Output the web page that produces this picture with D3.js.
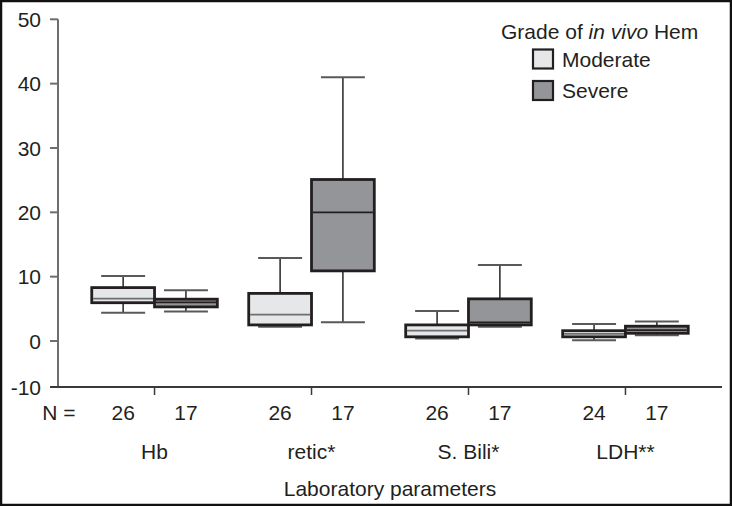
<!DOCTYPE html>
<html>
<head>
<meta charset="utf-8">
<script src="https://cdn.jsdelivr.net/npm/d3@7"></script>
<style>
  html, body { margin: 0; padding: 0; background: #fff; }
  svg { display: block; font-family: "Liberation Sans", Arial, Helvetica, sans-serif; }
</style>
</head>
<body>
<svg id="chart" width="732" height="506"></svg>
<script>
// ---- data ----
const categories = ["Hb", "retic*", "S. Bili*", "LDH**"];
const groups = ["Moderate", "Severe"];
const nModerate = [26, 26, 26, 24];
const nSevere = [17, 17, 17, 17];
const moderateMin    = [4.4, 2.2, 0.4, 0.1];
const moderateQ1     = [5.95, 2.5, 0.65, 0.65];
const moderateMedian = [6.6, 4.1, 1.6, 1.1];
const moderateQ3     = [8.3, 7.4, 2.5, 1.6];
const moderateMax    = [10.1, 12.9, 4.65, 2.65];
const severeMin      = [4.6, 2.9, 2.2, 0.9];
const severeQ1       = [5.3, 10.9, 2.5, 1.2];
const severeMedian   = [6.0, 20.0, 2.9, 1.7];
const severeQ3       = [6.5, 25.1, 6.55, 2.3];
const severeMax      = [7.9, 41.0, 11.8, 3.05];
const yTicks = [-10, 0, 10, 20, 30, 40, 50];
const legendTitle = ["Grade of ", "in vivo", " Hem"];
const xTitle = "Laboratory parameters";

// ---- build table ----
const boxes = [];
categories.forEach((c, i) => {
  boxes.push({cat: c, grp: "Moderate", n: nModerate[i], min: moderateMin[i], q1: moderateQ1[i], med: moderateMedian[i], q3: moderateQ3[i], max: moderateMax[i]});
  boxes.push({cat: c, grp: "Severe", n: nSevere[i], min: severeMin[i], q1: severeQ1[i], med: severeMedian[i], q3: severeQ3[i], max: severeMax[i]});
});

const fill = {Moderate: "#e6e7e8", Severe: "#939598"};
const medColor = {Moderate: "#6d6e71", Severe: "#231f20"};
const dark = "#231f20";
const FS = 21;

const svg = d3.select("#chart");

// frame
svg.append("rect").attr("x", 1).attr("y", 1).attr("width", 730).attr("height", 504)
  .attr("fill", "none").attr("stroke", "#111").attr("stroke-width", 2.5);

const left = 58, right = 722, axisY = 387;
const y = d3.scaleLinear().domain([-10, 0, 50]).range([387, 341, 19.3]);
const x0 = d3.scaleBand().domain(categories).range([left, right]).paddingInner(0.2).paddingOuter(0.215);
const x1 = d3.scaleBand().domain(groups).range([0, x0.bandwidth()]);

// y axis
const yAxis = svg.append("g");
yAxis.append("line").attr("x1", left).attr("x2", left).attr("y1", y(50)).attr("y2", axisY)
  .attr("stroke", "#6d6e71").attr("stroke-width", 2);
yTicks.forEach(t => {
  yAxis.append("line").attr("x1", left - 8).attr("x2", left).attr("y1", y(t)).attr("y2", y(t))
    .attr("stroke", "#6d6e71").attr("stroke-width", 2);
  yAxis.append("text").attr("x", 41).attr("y", y(t)).attr("dy", "0.36em")
    .attr("text-anchor", "end").attr("font-size", FS).attr("fill", dark).text(t);
});

// x axis
svg.append("line").attr("x1", left - 8).attr("x2", right).attr("y1", axisY).attr("y2", axisY)
  .attr("stroke", "#3a3a3a").attr("stroke-width", 2);
categories.forEach(c => {
  const cx = x0(c) + x0.bandwidth() / 2;
  svg.append("line").attr("x1", cx).attr("x2", cx).attr("y1", axisY).attr("y2", axisY + 8)
    .attr("stroke", "#3a3a3a").attr("stroke-width", 1.5);
  svg.append("text").attr("x", cx).attr("y", 451).attr("dy", "0.36em").attr("text-anchor", "middle")
    .attr("font-size", FS).attr("fill", dark).text(c);
});
svg.append("text").attr("x", 59).attr("y", 412).attr("dy", "0.36em").attr("text-anchor", "middle")
  .attr("font-size", FS).attr("fill", dark).text("N =");
svg.append("text").attr("x", (left + right) / 2).attr("y", 488).attr("dy", "0.36em").attr("text-anchor", "middle")
  .attr("font-size", FS).attr("fill", dark).text(xTitle);

// boxes
const g = svg.append("g");
boxes.forEach(b => {
  const bx = x0(b.cat) + x1(b.grp);
  const bw = x1.bandwidth();
  const cx = bx + bw / 2;
  const cw = bw * 0.7;
  // whiskers
  g.append("line").attr("x1", cx).attr("x2", cx).attr("y1", y(b.max)).attr("y2", y(b.q3))
    .attr("stroke", "#333").attr("stroke-width", 1.6);
  g.append("line").attr("x1", cx).attr("x2", cx).attr("y1", y(b.q1)).attr("y2", y(b.min))
    .attr("stroke", "#333").attr("stroke-width", 1.6);
  g.append("line").attr("x1", cx - cw / 2).attr("x2", cx + cw / 2).attr("y1", y(b.max)).attr("y2", y(b.max))
    .attr("stroke", "#58595b").attr("stroke-width", 2);
  g.append("line").attr("x1", cx - cw / 2).attr("x2", cx + cw / 2).attr("y1", y(b.min)).attr("y2", y(b.min))
    .attr("stroke", "#58595b").attr("stroke-width", 2);
  // box
  g.append("rect").attr("x", bx).attr("y", y(b.q3)).attr("width", bw).attr("height", y(b.q1) - y(b.q3))
    .attr("fill", fill[b.grp]).attr("stroke", dark).attr("stroke-width", 2.8);
  g.append("line").attr("x1", bx + 1.4).attr("x2", bx + bw - 1.4).attr("y1", y(b.med)).attr("y2", y(b.med))
    .attr("stroke", medColor[b.grp]).attr("stroke-width", 1.8);
  // N
  svg.append("text").attr("x", cx).attr("y", 412).attr("dy", "0.36em").attr("text-anchor", "middle")
    .attr("font-size", FS).attr("fill", dark).text(b.n);
});

// legend
const lt = svg.append("text").attr("x", 501).attr("y", 31).attr("dy", "0.36em")
  .attr("font-size", FS).attr("fill", dark);
lt.append("tspan").text(legendTitle[0]);
lt.append("tspan").attr("font-style", "italic").text(legendTitle[1]);
lt.append("tspan").text(legendTitle[2]);
groups.forEach((gname, i) => {
  const ly = 59 + i * 31.5;
  svg.append("rect").attr("x", 533).attr("y", ly - 9.5).attr("width", 20).attr("height", 19)
    .attr("fill", fill[gname]).attr("stroke", dark).attr("stroke-width", 2.2);
  svg.append("text").attr("x", 562).attr("y", ly).attr("dy", "0.36em")
    .attr("font-size", FS).attr("fill", dark).text(gname);
});
</script>
</body>
</html>
